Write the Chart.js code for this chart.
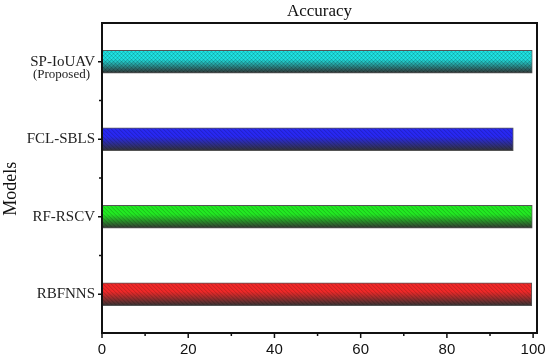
<!DOCTYPE html>
<html><head><meta charset="utf-8">
<script src="https://cdn.jsdelivr.net/npm/chart.js@4/dist/chart.umd.min.js"></script>
<style>html,body{margin:0;padding:0;background:#fff}#wrap{width:550px;height:360px}</style>
</head><body><div id="wrap"><canvas id="c" width="550" height="360"></canvas></div>
<script>
const categories = ["SP-IoUAV", "FCL-SBLS", "RF-RSCV", "RBFNNS"];
const subLabels = ["(Proposed)", "", "", ""];
const accuracy = [99.8, 95.4, 99.8, 99.7];
const barColors = ["#1ee4e4", "#2828f2", "#22ea22", "#f02828"];
const xTicks = [0, 20, 40, 60, 80, 100];
const xMinorTicks = [10, 30, 50, 70, 90];
const chartTitle = "Accuracy";
const yTitle = "Models";

const BAR_T = 23;
function barFill(ctx) {
  const chart = ctx.chart;
  const ys = chart.scales && chart.scales.y;
  const col = barColors[ctx.dataIndex];
  if (!ys || ctx.dataIndex === undefined) return col;
  const cy = ys.getPixelForValue(ctx.dataIndex);
  if (!isFinite(cy)) return col;
  const g = chart.ctx.createLinearGradient(0, cy - BAR_T / 2, 0, cy + BAR_T / 2);
  g.addColorStop(0, col);
  g.addColorStop(0.38, col);
  g.addColorStop(1, "#333333");
  return g;
}

const decor = {
  id: "decor",
  afterDatasetsDraw(chart) {
    const c = chart.ctx;
    const meta = chart.getDatasetMeta(0);
    meta.data.forEach((el, i) => {
      const p = el.getProps(["x", "y", "base", "height"], true);
      const x0 = Math.min(p.base, p.x), x1 = Math.max(p.base, p.x);
      const y0 = p.y - p.height / 2, y1 = p.y + p.height / 2;
      c.save();
      c.beginPath(); c.rect(x0 + 1, y0 + 1, x1 - x0 - 2, y1 - y0 - 2); c.clip();
      c.strokeStyle = "rgba(0,0,0,0.2)"; c.lineWidth = 1;
      for (let s = x0 - 40; s < x1 + 40; s += 4) {
        c.beginPath(); c.moveTo(s, y0); c.lineTo(s + (y1 - y0), y1); c.stroke();
      }
      if (i === 0) {
        for (let s = x0 - 40; s < x1 + 40; s += 4) {
          c.beginPath(); c.moveTo(s, y1); c.lineTo(s + (y1 - y0), y0); c.stroke();
        }
      }
      c.restore();
    });
  },
  afterDraw(chart) {
    const c = chart.ctx, a = chart.chartArea;
    const xs = chart.scales.x, ys = chart.scales.y;
    c.save();
    c.strokeStyle = "#111"; c.lineWidth = 2;
    c.strokeRect(a.left, a.top, a.right - a.left, a.bottom - a.top);
    c.lineWidth = 1.5;
    categories.forEach((_, i) => {
      const y = ys.getPixelForValue(i);
      c.beginPath(); c.moveTo(a.left, y); c.lineTo(a.left - 4, y); c.stroke();
      if (i < categories.length - 1) {
        const yb = (ys.getPixelForValue(i) + ys.getPixelForValue(i + 1)) / 2;
        c.beginPath(); c.moveTo(a.left, yb); c.lineTo(a.left - 3, yb); c.stroke();
      }
    });
    xTicks.forEach(v => {
      const x = xs.getPixelForValue(v);
      c.beginPath(); c.moveTo(x, a.bottom); c.lineTo(x, a.bottom + 5); c.stroke();
    });
    xMinorTicks.forEach(v => {
      const x = xs.getPixelForValue(v);
      c.beginPath(); c.moveTo(x, a.bottom); c.lineTo(x, a.bottom + 3); c.stroke();
    });
    c.fillStyle = "#222"; c.font = "13px 'Liberation Serif'";
    c.textAlign = "right"; c.textBaseline = "middle";
    subLabels.forEach((t, i) => {
      if (!t) return;
      c.fillText(t, a.left - 12, ys.getPixelForValue(i) + 13);
    });
    c.restore();
  }
};

new Chart(document.getElementById("c"), {
  type: "bar",
  data: {
    labels: categories,
    datasets: [{
      data: accuracy,
      backgroundColor: barFill,
      borderColor: "#555555",
      borderWidth: 1,
      borderSkipped: false,
      barThickness: BAR_T
    }]
  },
  options: {
    indexAxis: "y",
    responsive: false,
    animation: false,
    layout: { padding: { left: 0, right: 0, top: 0, bottom: 0 } },
    plugins: {
      legend: { display: false },
      tooltip: { enabled: false },
      title: { display: false }
    },
    scales: {
      x: {
        min: 0, max: 100.9,
        grid: { display: false, drawTicks: false },
        border: { display: false },
        ticks: {
          stepSize: 20, includeBounds: false, padding: 8, color: "#111",
          font: { family: "'Liberation Sans'", size: 15 }
        },
        afterFit(s) { s.height = 27; s.paddingRight = 13; }
      },
      x2: {
        type: "linear", position: "top", min: 0, max: 1,
        grid: { display: false, drawTicks: false },
        border: { display: false },
        ticks: { display: false },
        title: {
          display: true, text: chartTitle, color: "#111",
          font: { family: "'Liberation Serif'", size: 17 },
          padding: { top: 1, bottom: 1 }
        },
        afterFit(s) { s.height = 23; }
      },
      y: {
        grid: { display: false, drawTicks: false },
        border: { display: false },
        ticks: {
          padding: 7, color: "#222",
          font: { family: "'Liberation Serif'", size: 15 }
        },
        title: {
          display: true, text: yTitle + "\u2003\u2009", color: "#111",
          font: { family: "'Liberation Serif'", size: 18 },
          padding: { top: 0, bottom: 2 }
        },
        afterFit(s) { s.width = 102; }
      }
    }
  },
  plugins: [decor]
});
</script>
</body></html>
